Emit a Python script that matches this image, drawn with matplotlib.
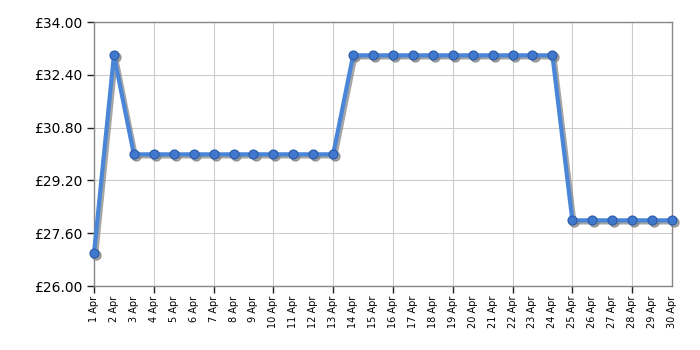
import matplotlib
matplotlib.use("Agg")
import matplotlib.pyplot as plt
from matplotlib.transforms import ScaledTranslation

days = list(range(1, 31))
labels = [f"{d} Apr" for d in days]
prices = [26.99, 32.99] + [29.99] * 11 + [32.99] * 11 + [27.99] * 6
yticks = [26.00, 27.60, 29.20, 30.80, 32.40, 34.00]

fig = plt.figure(figsize=(7, 3.5), dpi=100)
ax = fig.add_axes([94/700, 1-286/350, (672-94)/700, (286-22)/350])

shift = ax.transData + ScaledTranslation(1.5/72, -1.5/72, fig.dpi_scale_trans)
ax.plot(days, prices, color="#808080", lw=3, marker="o", ms=6.5,
        markerfacecolor="#808080", markeredgecolor="#808080", alpha=0.7,
        transform=shift, zorder=2, clip_on=False)
ax.plot(days, prices, color="#4a86d8", lw=3, marker="o", ms=6.5,
        markerfacecolor="#3f78cc", markeredgecolor="#2a5aa8", markeredgewidth=0.8,
        zorder=3, clip_on=False)

ax.set_xlim(1, 30)
ax.set_ylim(26, 34)
major = [d for d in days if (d - 1) % 3 == 0]
minor = [d for d in days if (d - 1) % 3 != 0]
ax.set_xticks(major)
ax.set_xticklabels([labels[d - 1] for d in major], rotation=90, fontsize=7)
ax.set_xticks(minor, minor=True)
ax.set_xticklabels([labels[d - 1] for d in minor], minor=True, rotation=90, fontsize=7)
ax.tick_params(axis="x", which="minor", length=0, pad=7)
ax.tick_params(axis="x", which="major", length=5, width=1, color="#222222", pad=2)
ax.set_yticks(yticks)
ax.set_yticklabels([f"£{v:.2f}" for v in yticks], fontsize=10)
ax.tick_params(axis="y", length=5, width=1, color="#222222")
ax.grid(True, which="major", color="#cccccc", lw=0.8)
ax.set_axisbelow(True)
for s in ax.spines.values():
    s.set_color("#888888")
    s.set_linewidth(1)

fig.savefig("out.png", dpi=100)
